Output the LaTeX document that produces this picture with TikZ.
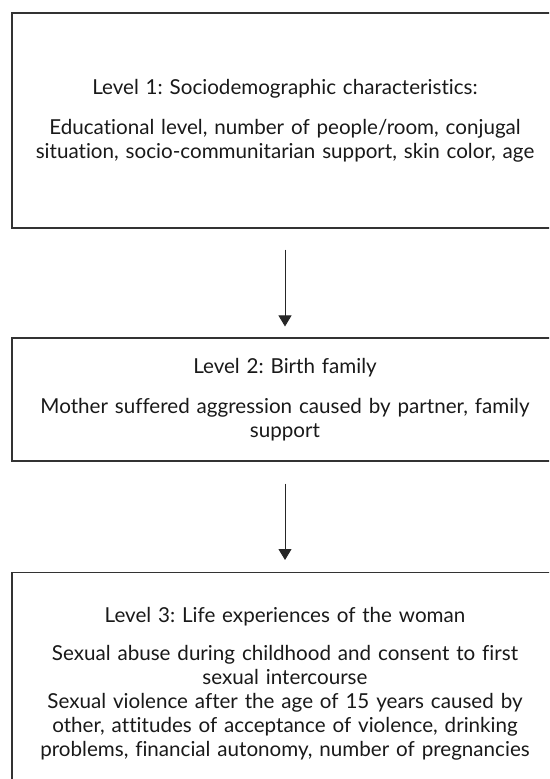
\documentclass[tikz,border=0pt]{standalone}
\usepackage{fontspec}
\setmainfont{Lato}[Ligatures=NoCommon]
\frenchspacing
\usetikzlibrary{arrows.meta}
\begin{document}
\begin{tikzpicture}[x=1pt,y=-1pt,
  box/.style={draw=black!80, line width=1.1pt, minimum width=546pt, text width=540pt, align=center, inner sep=0pt,
    font=\fontsize{20.6}{24}\selectfont, text=black!90},
  conn/.style={draw=black!85, line width=0.9pt, -{Triangle[width=13pt,length=11pt]}}]
\useasboundingbox (0,0) rectangle (549,779);
\begin{scope}
\clip (0,0) rectangle (549,779);
\node[box, minimum height=215pt] (b1) at (285,120.5)
  {Level 1: Sociodemographic characteristics:\\[16pt]
   Educational level, number of people/room, conjugal\\
   situation, socio-communitarian support, skin color, age};
\node[box, minimum height=123pt] (b2) at (285,399.5)
  {Level 2: Birth family\\[16pt]
   Mother suffered aggression caused by partner, family\\
   support};
\node[box, minimum height=222pt, anchor=north] (b3) at (285,572)
  {Level 3: Life experiences of the woman\\[14pt]
   Sexual abuse during childhood and consent to first\\
   sexual intercourse\\
   Sexual violence after the age of 15 years caused by\\
   other, attitudes of acceptance of violence, drinking\\
   problems, financial autonomy, number of pregnancies};
\end{scope}
\draw[conn, shorten <=21pt, shorten >=11pt] (b1.south) -- (b2.north);
\draw[conn, shorten <=22pt, shorten >=12pt] (b2.south) -- (b3.north);
\end{tikzpicture}
\end{document}
